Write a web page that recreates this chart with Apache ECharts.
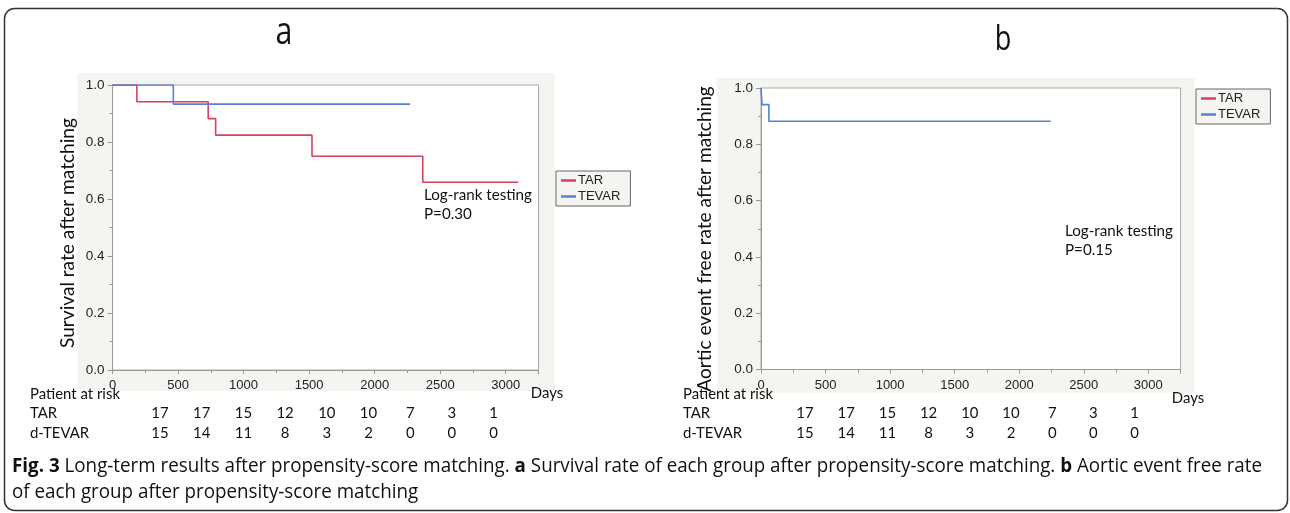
<!DOCTYPE html>
<html>
<head>
<meta charset="utf-8">
<script src="https://cdn.jsdelivr.net/npm/echarts@6/dist/echarts.min.js"></script>
<style>html,body{margin:0;padding:0;background:#fff;}#c{width:1290px;height:513px;}</style>
</head>
<body>
<div id="c"></div>
<script>
// ---------------- DATA ----------------
const panelTitles = ['a', 'b'];
const yAxisNames = ['Survival rate after matching', 'Aortic event free rate after matching'];
const legendNames = ['TAR', 'TEVAR'];
// Panel a – Kaplan–Meier steps (days, rate)
const tarA_days = [0, 186, 730, 787, 1522, 2367, 3095];
const tarA_rate = [1, 0.941, 0.882, 0.824, 0.750, 0.659, 0.659];
const tevarA_days = [0, 464, 2271];
const tevarA_rate = [1, 0.933, 0.933];
// Panel b
const tevarB_days = [0, 8, 61, 2244];
const tevarB_rate = [1, 0.941, 0.882, 0.882];
// Patients at risk
const riskHeader = 'Patient at risk';
const riskRowNames = ['TAR', 'd-TEVAR'];
const atRiskTAR = [17, 17, 15, 12, 10, 10, 7, 3, 1];
const atRiskTEVAR = [15, 14, 11, 8, 3, 2, 0, 0, 0];
const pTexts = ['P=0.30', 'P=0.15'];
const logRankText = 'Log-rank testing';
const xAxisName = 'Days';
const captionLine1 = [['b', 'Fig. 3'], ['n', ' Long-term results after propensity-score matching. '], ['b', 'a'], ['n', ' Survival rate of each group after propensity-score matching. '], ['b', 'b'], ['n', ' Aortic event free rate']];
const captionLine2 = 'of each group after propensity-score matching';

// ---------------- HELPERS ----------------
const cv = document.createElement('canvas').getContext('2d');
function mw(text, family, weight, size) { cv.font = weight + ' ' + size + 'px ' + family; return cv.measureText(text).width; }
function fit(text, family, weight, target) { return 100 * target / mw(text, family, weight, 100); }

const calFont = 'Lato';
const capFont = 'Open Sans';
const axFont = 'Liberation Sans';

const tableSize = fit(riskHeader, calFont, 'normal', 90);
const yNameSize = fit(yAxisNames[0], calFont, 'normal', 230);
const logSize = fit(logRankText, calFont, 'normal', 108);
const capSize = 19.5;
let capW = 0;
captionLine1.forEach(s => { capW += mw(s[1], capFont, s[0] === 'b' ? 'bold' : 'normal', capSize); });
const capScale = 1250 / capW;

function pairs(d, v) { return d.map((x, i) => [x, v[i]]); }

// ---------------- LAYOUT ----------------
const panels = [
  { gx: 112.5, gy: 85, gw: 426, gh: 285, bg: [77, 73, 478, 318], legend: [556, 171], title: [284, 33, 38], yName: [68, 233], log: [424, 195],
    riskX0: 160, riskStep: 41.7, labelX: 30, days: [547, 393] },
  { gx: 761, gy: 88, gw: 419.6, gh: 281.5, bg: [717, 78, 478, 315], legend: [1196, 89], title: [1003, 40, 34], yName: [705, 239], log: [1065, 231],
    riskX0: 805, riskStep: 41.2, labelX: 683, days: [1188, 398] }
];

const grids = [], xAxes = [], yAxes = [], legends = [], graphics = [];
panels.forEach((p, i) => {
  grids.push({ left: p.gx, top: p.gy, width: p.gw, height: p.gh, show: true, backgroundColor: '#fff', borderColor: '#aaa', borderWidth: 1 });
  xAxes.push({ type: 'value', gridIndex: i, min: 0, max: 3250, interval: 500,
    axisLine: { show: true, lineStyle: { color: '#999' } },
    axisTick: { show: true, length: 4, lineStyle: { color: '#999' } },
    minorTick: { show: true, splitNumber: 2, length: 3, lineStyle: { color: '#999' } },
    splitLine: { show: false },
    axisLabel: { fontFamily: axFont, fontSize: 13, color: '#222', margin: 9, showMaxLabel: false, formatter: v => String(v) } });
  yAxes.push({ type: 'value', gridIndex: i, min: 0, max: 1, interval: 0.2,
    axisLine: { show: true, lineStyle: { color: '#999' } },
    axisTick: { show: true, length: 5, lineStyle: { color: '#999' } },
    minorTick: { show: true, splitNumber: 2, length: 3, lineStyle: { color: '#999' } },
    splitLine: { show: false },
    axisLabel: { fontFamily: axFont, fontSize: 13.5, color: '#222', margin: 8, formatter: v => v.toFixed(1) } });
  legends.push({ left: p.legend[0], top: p.legend[1], orient: 'vertical', data: legendNames, icon: 'rect', itemWidth: 15, itemHeight: 2.5,
    itemGap: 3, padding: [3, 10, 3, 5], borderColor: '#666', borderWidth: 1, backgroundColor: '#f4f4f0', selectedMode: false,
    textStyle: { fontFamily: axFont, fontSize: 13, color: '#222', padding: [0, 0, 0, -3] } });
  // grey panel background
  graphics.push({ type: 'rect', z: -100, shape: { x: p.bg[0], y: p.bg[1], width: p.bg[2], height: p.bg[3] }, style: { fill: '#f4f4f0' } });
  // panel title
  graphics.push({ type: 'text', x: p.title[0], y: p.title[1], scaleX: 0.8, style: { text: panelTitles[i], font: 'normal ' + p.title[2] + 'px ' + capFont, fill: '#111', align: 'center', verticalAlign: 'middle' } });
  // y axis name
  graphics.push({ type: 'text', x: p.yName[0], y: p.yName[1], rotation: Math.PI / 2, style: { text: yAxisNames[i], font: 'normal ' + yNameSize + 'px ' + calFont, fill: '#111', align: 'center', verticalAlign: 'middle' } });
  // log-rank
  graphics.push({ type: 'text', x: p.log[0], y: p.log[1], style: { text: logRankText, font: 'normal ' + logSize + 'px ' + calFont, fill: '#111', align: 'left', verticalAlign: 'middle' } });
  graphics.push({ type: 'text', x: p.log[0], y: p.log[1] + 19, style: { text: pTexts[i], font: 'normal ' + logSize + 'px ' + calFont, fill: '#111', align: 'left', verticalAlign: 'middle' } });
  // Days
  graphics.push({ type: 'text', x: p.days[0], y: p.days[1], style: { text: xAxisName, font: 'normal ' + tableSize + 'px ' + calFont, fill: '#111', align: 'center', verticalAlign: 'middle' } });
  // risk table
  graphics.push({ type: 'text', x: p.labelX, y: 394, style: { text: riskHeader, font: 'normal ' + tableSize + 'px ' + calFont, fill: '#111', align: 'left', verticalAlign: 'middle' } });
  [413.5, 433.5].forEach((yy, r) => {
    graphics.push({ type: 'text', x: p.labelX, y: yy, style: { text: riskRowNames[r], font: 'normal ' + tableSize + 'px ' + calFont, fill: '#111', align: 'left', verticalAlign: 'middle' } });
    const vals = r === 0 ? atRiskTAR : atRiskTEVAR;
    vals.forEach((v, k) => {
      graphics.push({ type: 'text', x: p.riskX0 + k * p.riskStep, y: yy, style: { text: String(v), font: 'normal ' + tableSize + 'px ' + calFont, fill: '#111', align: 'center', verticalAlign: 'middle' } });
    });
  });
});

// border
graphics.push({ type: 'rect', shape: { x: 4.5, y: 8.5, width: 1283, height: 502, r: 10 }, style: { fill: 'none', stroke: '#333', lineWidth: 1.5 } });
// caption
let rich1 = captionLine1.map(s => s[0] === 'b' ? '{b|' + s[1] + '}' : '{n|' + s[1] + '}').join('');
graphics.push({ type: 'text', x: 12, y: 466, scaleX: capScale, style: { text: rich1, align: 'left', verticalAlign: 'middle',
  rich: { b: { font: 'bold ' + capSize + 'px ' + capFont, fill: '#111' }, n: { font: 'normal ' + capSize + 'px ' + capFont, fill: '#111' } } } });
graphics.push({ type: 'text', x: 12, y: 492, scaleX: capScale, style: { text: captionLine2, font: 'normal ' + capSize + 'px ' + capFont, fill: '#111', align: 'left', verticalAlign: 'middle' } });

const red = '#d7415f', blue = '#5a7fd4';
const series = [
  { name: 'TAR', type: 'line', xAxisIndex: 0, yAxisIndex: 0, step: 'end', showSymbol: false, color: red, lineStyle: { width: 1.6, color: red }, data: pairs(tarA_days, tarA_rate) },
  { name: 'TEVAR', type: 'line', xAxisIndex: 0, yAxisIndex: 0, step: 'end', showSymbol: false, color: blue, lineStyle: { width: 1.6, color: blue }, data: pairs(tevarA_days, tevarA_rate) },
  { name: 'TAR', type: 'line', xAxisIndex: 1, yAxisIndex: 1, step: 'end', showSymbol: false, color: red, lineStyle: { width: 1.6, color: red }, data: [] },
  { name: 'TEVAR', type: 'line', xAxisIndex: 1, yAxisIndex: 1, step: 'end', showSymbol: false, color: blue, lineStyle: { width: 1.6, color: blue }, data: pairs(tevarB_days, tevarB_rate) }
];

const chart = echarts.init(document.getElementById('c'), null, { renderer: 'canvas' });
chart.setOption({
  animation: false,
  backgroundColor: '#fff',
  grid: grids, xAxis: xAxes, yAxis: yAxes, legend: legends, series: series,
  graphic: graphics
});
</script>
</body>
</html>
